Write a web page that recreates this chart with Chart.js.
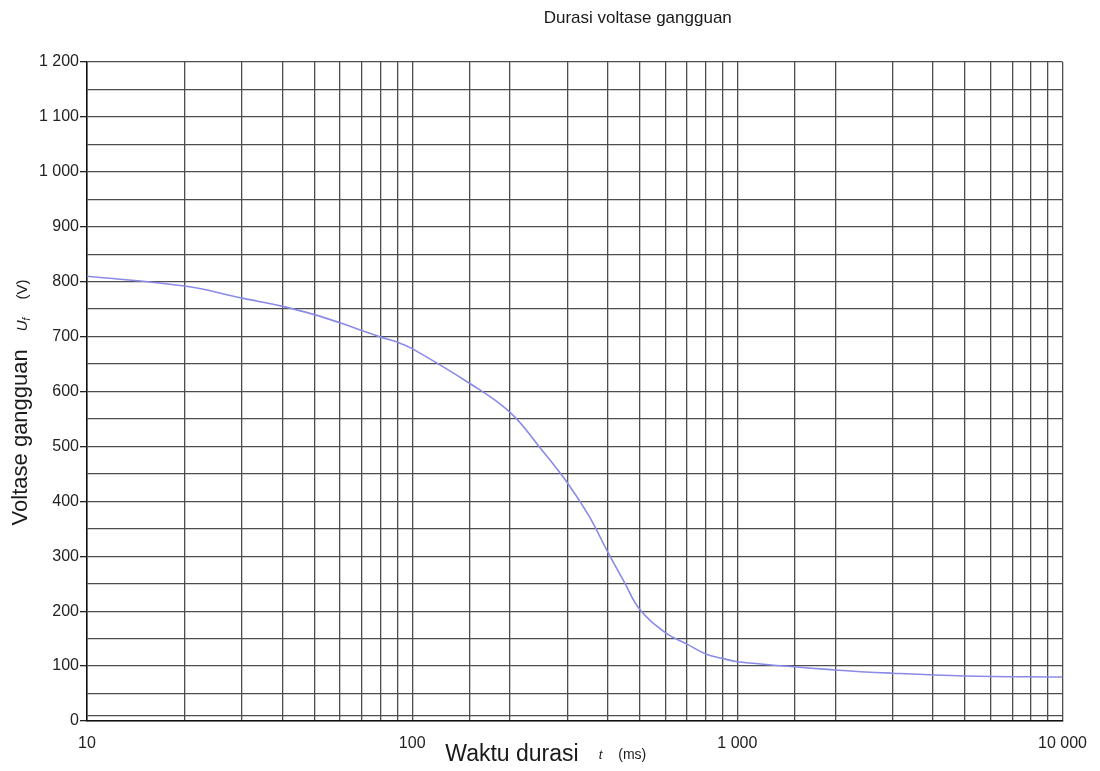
<!DOCTYPE html>
<html>
<head>
<meta charset="utf-8">
<script src="https://cdn.jsdelivr.net/npm/chart.js@4"></script>
<style>
  html, body { margin: 0; padding: 0; background: #fff; }
  #wrap { width: 1100px; height: 771px; }
</style>
</head>
<body>
<div id="wrap"><canvas id="durasiChart"></canvas></div>
<script>
// curve
const durationMs = [10, 20, 30, 40, 50, 60, 70, 80, 90, 100, 150, 200, 250, 300, 350, 400, 450, 500, 600, 700, 800, 900, 1000, 2000, 3000, 5000, 10000];
const voltage = [810, 792, 770, 755, 740, 725, 711, 699, 690, 678, 615, 562, 494, 434, 373, 307, 252, 204, 161, 140, 122, 114, 108, 93, 87, 82, 80];
const xLabels = [10, 100, 1000, 10000];
const yMin = 0, yMax = 1200, yStep = 50, yLabelStep = 100;

const FONT = "'Liberation Sans', Arial, sans-serif";
const gridColor = '#4d4d4d';

// thousands with a space, like "1 200"
function spaced(v) {
    return String(v).replace(/\B(?=(\d{3})+(?!\d))/g, ' ');
}

// draw a row of text pieces with their own fonts, centred on x
function drawRuns(ctx, runs, x, y) {
    let total = 0;
    runs.forEach(r => { ctx.font = r.font; total += ctx.measureText(r.text).width + (r.gap || 0); });
    let cx = x - total / 2;
    runs.forEach(r => {
        ctx.font = r.font;
        ctx.fillText(r.text, cx, y + (r.dy || 0));
        cx += ctx.measureText(r.text).width + (r.gap || 0);
    });
}

const titlesPlugin = {
    id: 'titles',
    afterDraw(chart) {
        const ctx = chart.ctx;
        const a = chart.chartArea;
        ctx.save();
        ctx.fillStyle = '#1a1a1a';
        ctx.textBaseline = 'alphabetic';
        ctx.textAlign = 'left';

        // main title
        drawRuns(ctx, [{ text: 'Durasi voltase gangguan', font: `17px ${FONT}` }],
            (a.left + a.right) / 2 + 63, 23);

        // x axis title
        drawRuns(ctx, [
            { text: 'Waktu durasi', font: `23px ${FONT}`, gap: 20 },
            { text: 't', font: `italic 13px ${FONT}`, gap: 16, dy: -2 },
            { text: '(ms)', font: `14px ${FONT}`, dy: -2 }
        ], (a.left + a.right) / 2 - 29, 761);

        // y axis title
        ctx.translate(27, (a.top + a.bottom) / 2 + 11);
        ctx.rotate(-Math.PI / 2);
        drawRuns(ctx, [
            { text: 'Voltase gangguan', font: `22px ${FONT}`, gap: 18 },
            { text: 'U', font: `italic 15px ${FONT}` },
            { text: 'f', font: `italic 10px ${FONT}`, gap: 18, dy: 3 },
            { text: '(V)', font: `15px ${FONT}` }
        ], 0, 0);
        ctx.restore();
    }
};

document.addEventListener('DOMContentLoaded', () => {
    const ctx = document.getElementById('durasiChart').getContext('2d');

    new Chart(ctx, {
        type: 'line',
        data: {
            datasets: [{
                data: durationMs.map((t, i) => ({ x: t, y: voltage[i] })),
                borderColor: '#8a8ae8',
                borderWidth: 1.6,
                pointRadius: 0,
                fill: false,
                tension: 0.4
            }]
        },
        options: {
            responsive: true,
            maintainAspectRatio: false,
            animation: false,
            layout: { padding: { left: 0, right: 37, top: 62, bottom: 0 } },
            plugins: {
                legend: { display: false },
                title: { display: false },
                tooltip: { enabled: false }
            },
            scales: {
                x: {
                    type: 'logarithmic',
                    min: 10,
                    max: 10000,
                    afterFit: s => { s.height = 50; },
                    border: { display: true, color: '#111', width: 1.5 },
                    grid: { color: gridColor, lineWidth: 1.3, tickLength: 0, drawTicks: false },
                    ticks: {
                        autoSkip: false,
                        maxRotation: 0,
                        padding: 13,
                        color: '#222',
                        font: { family: FONT, size: 16 },
                        callback: v => xLabels.includes(v) ? spaced(v) : ''
                    }
                },
                y: {
                    min: yMin,
                    max: yMax,
                    afterFit: s => { s.width = 87; },
                    afterBuildTicks: s => {
                        const t = [];
                        for (let v = yMin; v <= yMax; v += yStep) t.push({ value: v });
                        t.splice(1, 0, { value: 10 });
                        s.ticks = t;
                    },
                    border: { display: true, color: '#111', width: 1.5 },
                    grid: {
                        color: gridColor,
                        lineWidth: 1.3,
                        tickLength: 7,
                        tickColor: c => (c.tick && c.tick.value % yLabelStep === 0) ? '#222' : 'rgba(0,0,0,0)'
                    },
                    ticks: {
                        padding: 1,
                        color: '#222',
                        font: { family: FONT, size: 16 },
                        callback: v => v % yLabelStep === 0 ? spaced(v) : ''
                    }
                }
            }
        },
        plugins: [titlesPlugin]
    });
});
</script>
</body>
</html>
